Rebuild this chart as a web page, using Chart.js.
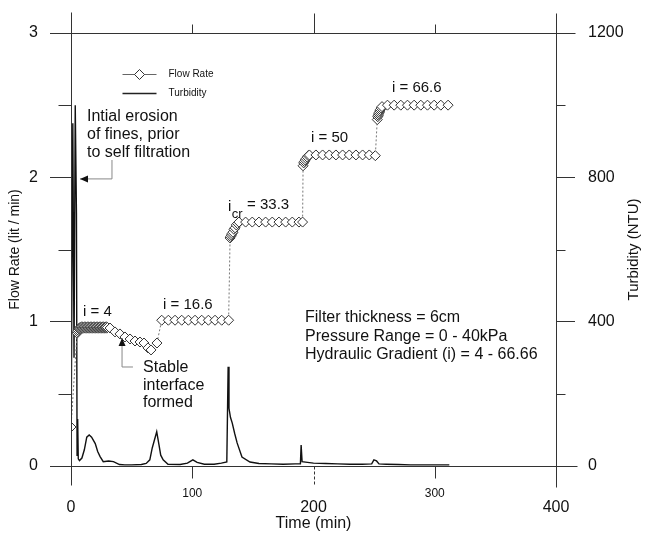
<!DOCTYPE html>
<html>
<head>
<meta charset="utf-8">
<script src="https://cdn.jsdelivr.net/npm/chart.js@4.4.1/dist/chart.umd.min.js"></script>
<style>
  body { margin: 0; background: #fff; }
</style>
</head>
<body>
<canvas id="filterChart" width="645" height="533"></canvas>
<script>
// flow rate readings: time (min) / flow (lit/min)
const flowTime = [0, 5, 5.5, 6, 6.5, 7, 7.5, 8, 8.5, 9, 9.5, 10, 10.5, 11, 11.5, 12, 12.5, 13, 13.5, 14, 14.5,
  15, 15.5, 16, 16.5, 17, 17.5, 18, 18.5, 19, 19.5, 20, 20.5, 21, 21.5, 22, 22.5, 23, 23.5, 24, 24.5,
  25, 25.5, 26, 26.5, 27, 27.5, 28, 28.5, 29, 29.5, 30, 32.2,
  36.3, 40.4, 44.5, 48.7, 52.8, 56.9, 60.2, 63.5, 66, 70.9,
  74.8, 80.3, 85.8, 91.3, 96.8, 102.3, 107.8, 113.3, 118.8, 124.3, 130,
  131.2, 131.7, 132.3, 132.9, 133.6, 134.4, 135.3, 136.3, 137.4,
  138.5, 144, 149.5, 155, 160.5, 166, 171.5, 177, 182.5, 188, 191,
  191.4, 191.9, 192.5, 193.2, 194, 194.8, 195.7, 196.6,
  202, 207.5, 213, 218.5, 224, 229.5, 235, 240.5, 246, 251,
  252.6, 253, 253.4, 253.8, 254.2, 254.7, 255.2, 255.8, 256.5,
  261, 266.5, 272, 277.5, 283, 288.5, 294, 299.5, 305, 311];
const flowRate = [0.27, 0.92, 0.93, 0.94, 0.95,
  0.955, 0.96, 0.955, 0.96, 0.965, 0.955, 0.96, 0.955, 0.96, 0.965, 0.955, 0.96, 0.955, 0.96, 0.965,
  0.955, 0.96, 0.955, 0.96, 0.965, 0.955, 0.96, 0.955, 0.96, 0.965, 0.955, 0.96, 0.955, 0.96, 0.965,
  0.955, 0.96, 0.955, 0.96, 0.965, 0.955, 0.96, 0.955, 0.96, 0.965, 0.955, 0.96, 0.955, 0.96, 0.965,
  0.955, 0.96, 0.956,
  0.929, 0.915, 0.894, 0.88, 0.866, 0.859, 0.852, 0.818, 0.804, 0.852,
  1.01, 1.01, 1.01, 1.01, 1.01, 1.01, 1.01, 1.01, 1.01, 1.01, 1.01,
  1.58, 1.59, 1.6, 1.61, 1.62, 1.64, 1.65, 1.67, 1.68,
  1.69, 1.69, 1.69, 1.69, 1.69, 1.69, 1.69, 1.69, 1.69, 1.69, 1.69,
  2.08, 2.1, 2.11, 2.12, 2.13, 2.14, 2.15, 2.155,
  2.155, 2.155, 2.155, 2.155, 2.155, 2.155, 2.155, 2.155, 2.155, 2.15,
  2.4, 2.42, 2.43, 2.44, 2.45, 2.46, 2.47, 2.48, 2.49,
  2.5, 2.5, 2.5, 2.5, 2.5, 2.5, 2.5, 2.5, 2.5, 2.5];

// turbidity readings: time (min) / NTU
const turbTime = [0, 1.5, 2.5, 3.5, 4.5, 5, 5.5, 6, 7, 9, 11, 13, 15, 17, 20, 22, 24, 26.6, 31, 35, 40, 44.5, 50, 58, 62,
  65, 67, 70.7, 72.5, 74, 76, 80, 90, 96, 100.5, 104, 110, 118, 124, 128.5, 129.6, 130.3, 131.5, 133, 135, 137, 141,
  147.6, 155, 165, 175, 185, 189.2, 189.8, 190.6, 195, 200, 210, 220, 230, 240, 248, 249.8, 252, 254, 260, 270, 280, 295, 312];
const turbidity = [20, 950, 300, 1000, 700, 30, 130, 20, 15, 22, 45, 80, 86, 80, 62, 40, 26, 12, 14, 12, 4, 3, 3, 4, 7,
  17, 50, 95, 60, 30, 17, 5, 4, 8, 17, 10, 5, 5, 8, 11, 275, 160, 135, 119, 90, 64, 25,
  11, 7, 6, 5, 6, 6, 58, 12, 10, 8, 7, 6, 5, 5, 6, 17, 14, 6, 5, 4, 3, 3, 3];

const timeTicks = [0, 100, 200, 300, 400];
const flowMinor = [0.5, 1.5, 2.5];
const turbMinor = [200, 600, 1000];

const FONT = "'Liberation Sans', Arial, Helvetica, sans-serif";
Chart.defaults.font.family = FONT;
Chart.defaults.color = '#111';

function say(ctx, s, x, y, size, align) {
  ctx.font = size + 'px ' + FONT;
  ctx.textAlign = align || 'left';
  ctx.textBaseline = 'middle';
  ctx.fillStyle = '#111';
  ctx.fillText(s, x, y);
}

// axis frame, minor ticks, legend and the notes written on the plot
const decorations = {
  id: 'decorations',
  afterDraw(chart) {
    const { ctx, chartArea: a, scales } = chart;
    const xs = scales.x, ys = scales.y;
    const L = Math.round(a.left) + 0.5, R = Math.round(a.right) + 0.5;
    const T = Math.round(a.top) + 0.5, B = Math.round(a.bottom) + 0.5;
    const seg = (x1, y1, x2, y2) => { ctx.beginPath(); ctx.moveTo(x1, y1); ctx.lineTo(x2, y2); ctx.stroke(); };
    const px = (t, v) => [xs.getPixelForValue(t), ys.getPixelForValue(v)];

    ctx.save();
    ctx.strokeStyle = '#333';
    ctx.lineWidth = 1;
    seg(L, T - 21, L, B + 19);
    seg(R, T - 20, R, B + 21);
    seg(L - 21, T, R + 19, T);
    seg(L - 21, B, R + 21, B);

    flowMinor.forEach(v => { const y = Math.round(ys.getPixelForValue(v)) + 0.5; seg(L - 13, y, L, y); });
    turbMinor.forEach(v => { const y = Math.round(scales.y1.getPixelForValue(v)) + 0.5; seg(R, y, R + 9, y); });

    [100, 200, 300].forEach(t => {
      const x = Math.round(xs.getPixelForValue(t)) + 0.5;
      const major = t % 200 === 0;
      seg(x, T, x, T - (major ? 20 : 9));
      if (major) ctx.setLineDash([3, 2]);
      seg(x, B, x, B + (major ? 19 : 12));
      ctx.setLineDash([]);
    });

    // right axis title reads bottom to top like the left one
    ctx.save();
    ctx.translate(634, (a.top + a.bottom) / 2);
    ctx.rotate(-Math.PI / 2);
    say(ctx, 'Turbidity (NTU)', 0, 0, 15, 'center');
    ctx.restore();

    // legend
    const lx = L + 51, ly = T + 41;
    ctx.strokeStyle = '#666';
    seg(lx, ly, lx + 34, ly);
    ctx.beginPath();
    ctx.moveTo(lx + 12, ly); ctx.lineTo(lx + 17, ly - 5); ctx.lineTo(lx + 22, ly); ctx.lineTo(lx + 17, ly + 5); ctx.closePath();
    ctx.fillStyle = '#fff'; ctx.fill(); ctx.strokeStyle = '#333'; ctx.stroke();
    ctx.strokeStyle = '#222'; ctx.lineWidth = 1.3;
    seg(lx, ly + 19, lx + 34, ly + 19);
    say(ctx, 'Flow Rate', lx + 46, ly, 10);
    say(ctx, 'Turbidity', lx + 46, ly + 19, 10);

    // notes
    const block = (lines, t, v, gap, size) => {
      const [x, y] = px(t, v);
      lines.forEach((s, i) => say(ctx, s, x, y + i * gap, size));
    };
    block(['Intial erosion', 'of fines, prior', 'to self filtration'], 13.2, 2.42, 18, 16);
    block(['Stable', 'interface', 'formed'], 59.4, 0.679, 17.5, 16);
    block(['Filter thickness = 6cm', 'Pressure Range = 0 - 40kPa', 'Hydraulic Gradient (i) = 4 - 66.66'], 193, 1.026, 18.5, 16);
    block(['i = 4'], 9.9, 1.067, 0, 15);
    block(['i = 16.6'], 75.9, 1.116, 0, 15);
    block(['i'], 129.5, 1.795, 0, 15);
    block(['cr'], 132.6, 1.74, 0, 13);
    block(['= 33.3'], 145.2, 1.809, 0, 15);
    block(['i = 50'], 197.9, 2.273, 0, 15);
    block(['i = 66.6'], 264.7, 2.62, 0, 15);

    // arrows
    const arrow = (pts, dir) => {
      ctx.strokeStyle = '#888'; ctx.lineWidth = 1;
      ctx.beginPath();
      pts.forEach((p, i) => { const [x, y] = px(p[0], p[1]); i ? ctx.lineTo(x, y) : ctx.moveTo(x, y); });
      ctx.stroke();
      const [tx, ty] = px(pts[pts.length - 1][0], pts[pts.length - 1][1]);
      ctx.fillStyle = '#111';
      ctx.beginPath();
      if (dir === 'left') { ctx.moveTo(tx, ty); ctx.lineTo(tx + 8, ty - 3.5); ctx.lineTo(tx + 8, ty + 3.5); }
      else { ctx.moveTo(tx, ty); ctx.lineTo(tx - 3.5, ty + 8); ctx.lineTo(tx + 3.5, ty + 8); }
      ctx.closePath(); ctx.fill();
    };
    arrow([[33.8, 2.12], [33.8, 1.989], [7.4, 1.989]], 'left');
    arrow([[51.1, 0.686], [42.1, 0.686], [42.1, 0.887]], 'up');
    ctx.restore();
  }
};

new Chart(document.getElementById('filterChart'), {
  type: 'line',
  data: {
    datasets: [
      {
        label: 'Flow Rate',
        data: flowTime.map((t, i) => ({ x: t, y: flowRate[i] })),
        yAxisID: 'y',
        borderColor: '#777',
        borderWidth: 1,
        borderDash: [2, 2],
        pointStyle: 'rectRot',
        pointRadius: 5,
        pointBackgroundColor: '#fff',
        pointBorderColor: '#333',
        pointBorderWidth: 1,
        tension: 0
      },
      {
        label: 'Turbidity',
        data: turbTime.map((t, i) => ({ x: t, y: turbidity[i] })),
        yAxisID: 'y1',
        borderColor: '#111',
        borderWidth: 1.4,
        pointRadius: 0,
        tension: 0
      }
    ]
  },
  options: {
    responsive: false,
    animation: false,
    layout: { padding: { top: 33 } },
    plugins: {
      legend: { display: false },
      tooltip: { enabled: false }
    },
    scales: {
      x: {
        type: 'linear',
        min: 0,
        max: 400,
        afterBuildTicks: s => { s.ticks = timeTicks.map(v => ({ value: v })); },
        ticks: {
          autoSkip: false,
          maxRotation: 0,
          padding: 20,
          color: '#111',
          font: c => (c.tick && c.tick.value % 200 === 0) ? { size: 16, lineHeight: 0.92 } : { size: 12, lineHeight: 1.2 },
          callback: v => v % 200 === 0 ? ['', String(v)] : String(v)
        },
        grid: { display: false, drawTicks: false },
        border: { display: false },
        title: { display: true, text: 'Time (min)', font: { size: 16 }, padding: { top: 0, bottom: 0 } },
        afterFit: s => { s.height = 67; }
      },
      y: {
        type: 'linear',
        position: 'left',
        min: 0,
        max: 3,
        ticks: { stepSize: 1, padding: 12, font: { size: 16 } },
        grid: { drawOnChartArea: false, tickLength: 21, color: '#333' },
        border: { display: false },
        title: { display: true, text: 'Flow Rate (lit / min)', font: { size: 14 }, padding: { top: 7, bottom: 0 } },
        afterFit: s => { s.width = 71; }
      },
      y1: {
        type: 'linear',
        position: 'right',
        min: 0,
        max: 1200,
        ticks: { stepSize: 400, padding: 13, font: { size: 16 }, callback: v => String(v) },
        grid: { drawOnChartArea: false, tickLength: 19, color: '#333' },
        border: { display: false },
        afterFit: s => { s.width = 89; }
      }
    }
  },
  plugins: [decorations]
});
</script>
</body>
</html>
